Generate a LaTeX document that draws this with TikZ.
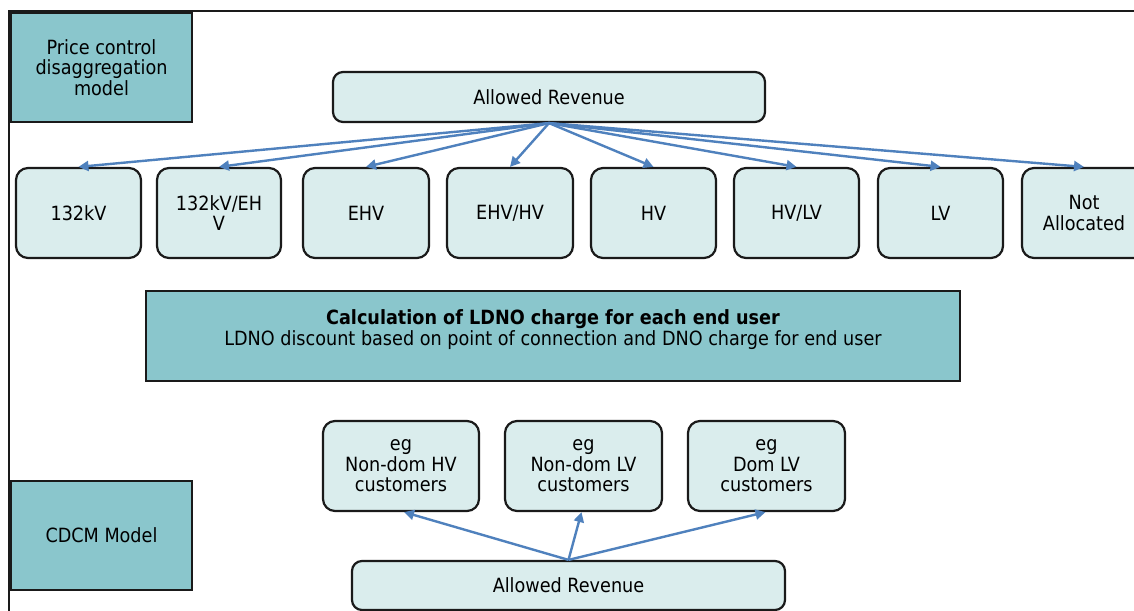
\documentclass[tikz,border=0pt]{standalone}
\usepackage{fontspec}
\setmainfont{DejaVu Sans Condensed}
\usetikzlibrary{arrows.meta}
\definecolor{teal}{HTML}{8AC6CC}
\definecolor{pale}{HTML}{DAEDED}
\definecolor{arr}{HTML}{4F81BD}
\definecolor{bord}{HTML}{1A1A1A}
\tikzset{
  model/.style={draw=bord, line width=2.2pt, fill=teal, align=center, inner sep=0pt},
  rbox/.style={draw=bord, line width=2.2pt, fill=pale, rounded corners=12pt, align=center, inner sep=0pt,
    minimum height=90pt},
  txt/.style={align=center, inner sep=0pt},
  link/.style={draw=arr, line width=2.4pt, -{Triangle[length=10pt,width=10pt]}},
}
\begin{document}
\begin{tikzpicture}[x=1pt,y=-1pt, font=\fontsize{19.6}{20.5}\selectfont]
\useasboundingbox (0,0) rectangle (1134,610);
\fill[white] (0,0) rectangle (1134,610);
\clip (0,0) rectangle (1134,610);
% frame
\draw[bord, line width=2pt] (9,612) -- (9,11) -- (1136,11);
% model labels
\node[model, minimum width=181pt, minimum height=109pt] (pcd) at (101.5,67.5) {Price control\\disaggregation\\model};
\node[model, minimum width=181pt, minimum height=109pt] (cdcm) at (101.5,535.5) {CDCM Model};
% top allowed revenue
\node[rbox, rounded corners=10pt, minimum width=432pt, minimum height=50pt] (ar1) at (549,97) {Allowed Revenue};
% level boxes
\node[rbox, minimum width=125pt] (l1) at (78.5,213) {132kV};
\node[rbox, minimum width=124pt] (l2) at (219,213) {132kV/EH\\V};
\node[rbox, minimum width=126pt] (l3) at (366,213) {EHV};
\node[rbox, minimum width=126pt] (l4) at (510,213) {EHV/HV};
\node[rbox, minimum width=125pt] (l5) at (653.5,213) {HV};
\node[rbox, minimum width=125pt] (l6) at (796.5,213) {HV/LV};
\node[rbox, minimum width=125pt] (l7) at (940.5,213) {LV};
\node[rbox, minimum width=124pt] (l8) at (1084,213) {Not\\Allocated};
\foreach \i in {1,...,8} {\draw[link] (ar1.south) -- (l\i.north);}
% middle box
\node[model, minimum width=814pt, minimum height=90pt] (mid) at (553,336) {};
\node[txt] (midtext) at (553,329.5) {\textbf{Calculation of LDNO charge for each end user}\\LDNO discount based on point of connection and DNO charge for end user};
% customers
\node[rbox, minimum width=156pt] (c1) at (401,466) {eg\\Non-dom HV\\customers};
\node[rbox, minimum width=157pt] (c2) at (583.5,466) {eg\\Non-dom LV\\customers};
\node[rbox, minimum width=157pt] (c3) at (766.5,466) {eg\\Dom LV\\customers};
% bottom allowed revenue
\node[rbox, rounded corners=10pt, minimum width=433pt, minimum height=49pt] (ar2) at (568.5,585.5) {Allowed Revenue};
\draw[link] (ar2.north) -- ([xshift=3pt]c1.south);
\draw[link] (ar2.north) -- ([xshift=-2pt]c2.south);
\draw[link] (ar2.north) -- ([xshift=-1pt]c3.south);
\end{tikzpicture}
\end{document}
